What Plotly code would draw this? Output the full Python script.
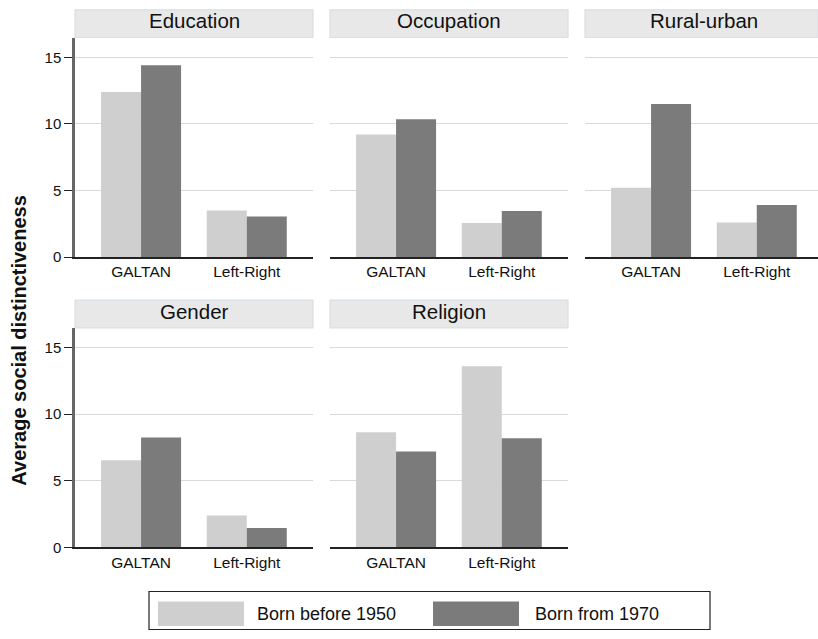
import plotly.graph_objects as go

# Data
groups = ["Education", "Occupation", "Rural-urban", "Gender", "Religion"]
measures = ["GALTAN", "Left-Right"]
cohorts = ["Born before 1950", "Born from 1970"]
born_before_1950 = [[12.4, 3.5], [9.2, 2.55], [5.2, 2.6], [6.55, 2.4], [8.65, 13.6]]
born_from_1970 = [[14.4, 3.05], [10.35, 3.45], [11.5, 3.9], [8.25, 1.45], [7.2, 8.2]]
y_ticks = [0, 5, 10, 15]

W, H = 818, 639
FONT = "Liberation Sans, Arial, sans-serif"
LIGHT = "#cfcfcf"
DARK = "#7b7b7b"


def px_x(p):
    return p / W


def px_y(p):
    return 1 - p / H


# panel geometry in pixels: (left, right) columns, (header_top, plot_top, baseline) rows
cols = [(75, 313), (330, 568), (585, 823)]
rows = [(10, 38, 260.3), (304, 332, 554.3)]
unit_px = 105.7  # pixels per category step
x_lo = -0.625

fig = go.Figure()
shapes = []
annotations = []

for i, name in enumerate(groups):
    r, c = divmod(i, 3)
    left, right = cols[c]
    htop, ptop, base = rows[r]
    right_clip = min(right, W)
    ax = "" if i == 0 else str(i + 1)
    xa, ya = "x" + ax, "y" + ax

    fig.add_trace(go.Bar(x=measures, y=born_before_1950[i], name=cohorts[0],
                         marker=dict(color=LIGHT, line=dict(width=0)),
                         xaxis=xa, yaxis=ya, showlegend=False))
    fig.add_trace(go.Bar(x=measures, y=born_from_1970[i], name=cohorts[1],
                         marker=dict(color=DARK, line=dict(width=0)),
                         xaxis=xa, yaxis=ya, showlegend=False))

    x_hi = x_lo + (right_clip - left) / unit_px
    y_hi = (base - ptop) / 13.48

    fig.layout["xaxis" + ax] = dict(
        domain=[px_x(left), px_x(right_clip)], anchor=ya, type="category",
        range=[x_lo, x_hi], showline=True, linecolor="#222", linewidth=1.5,
        ticks="", showgrid=False, tickfont=dict(family=FONT, size=15.5, color="#111"),
        fixedrange=True)
    first_col = c == 0
    fig.layout["yaxis" + ax] = dict(
        domain=[px_y(base), px_y(ptop)], anchor=xa, range=[0, y_hi],
        tickvals=y_ticks, showticklabels=first_col,
        ticks="outside" if first_col else "", ticklen=8, tickwidth=1.2, tickcolor="#222",
        showline=first_col, linecolor="#666", linewidth=2.5,
        showgrid=True, gridcolor="#d9d9d9", gridwidth=1.3, zeroline=False,
        tickfont=dict(family=FONT, size=15, color="#111"), fixedrange=True)

    # panel header strip
    shapes.append(dict(type="rect", xref="paper", yref="paper",
                       x0=px_x(left), x1=px_x(right_clip), y0=px_y(ptop), y1=px_y(htop),
                       fillcolor="#e8e8e8", line=dict(color="#d6e0e6", width=1.2),
                       layer="below"))
    annotations.append(dict(text=name, xref="paper", yref="paper",
                            x=px_x((left + right) / 2), y=px_y((htop + ptop) / 2 - 3),
                            xanchor="center", yanchor="middle", showarrow=False,
                            font=dict(family=FONT, size=20.5, color="#111")))

# y-axis title
annotations.append(dict(text="<b>Average social distinctiveness</b>", xref="paper", yref="paper",
                        x=px_x(19), y=px_y(345), textangle=-90, showarrow=False,
                        xanchor="center", yanchor="middle",
                        font=dict(family=FONT, size=20, color="#111")))

# legend box with swatches
shapes.append(dict(type="rect", xref="paper", yref="paper",
                   x0=px_x(149), x1=px_x(710), y0=px_y(637.5), y1=px_y(599),
                   fillcolor="white", line=dict(color="#222", width=1.2)))
for (sx0, sx1, tx), col, label in zip([(158, 244, 255), (433, 519, 533)], [LIGHT, DARK], cohorts):
    shapes.append(dict(type="rect", xref="paper", yref="paper",
                       x0=px_x(sx0), x1=px_x(sx1), y0=px_y(634), y1=px_y(609),
                       fillcolor=col, line=dict(width=0)))
    annotations.append(dict(text=label, xref="paper", yref="paper",
                            x=px_x(tx), y=px_y(621.5), xanchor="left", yanchor="middle",
                            showarrow=False, font=dict(family=FONT, size=18, color="#111")))

fig.update_layout(
    width=W, height=H, margin=dict(l=0, r=0, t=0, b=0),
    paper_bgcolor="white", plot_bgcolor="white",
    barmode="group", bargap=0.243, bargroupgap=0,
    shapes=shapes, annotations=annotations, showlegend=False,
    font=dict(family=FONT),
)

fig.write_html("out.html")
